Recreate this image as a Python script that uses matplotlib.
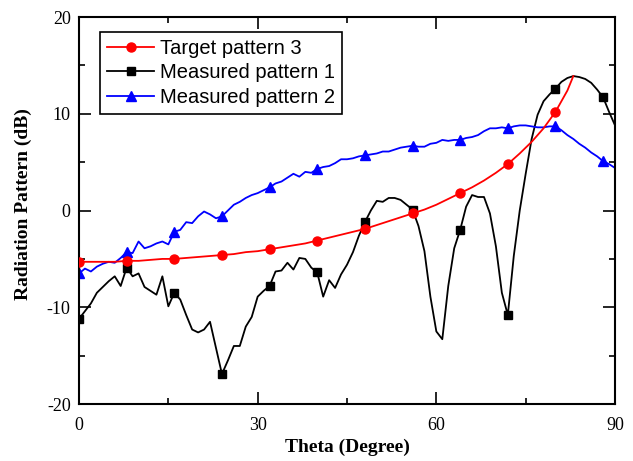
#!/usr/bin/env python3

import matplotlib
matplotlib.use('Agg')
import matplotlib.pyplot as plt
from matplotlib.ticker import MultipleLocator

# theta grid (degrees) for the measured curves
theta = list(range(0, 91))

measured_1 = [
    -11.2, -10.4, -9.6, -8.5, -7.9, -7.3, -6.8, -7.8, -5.9, -6.8,
    -6.5, -7.9, -8.3, -8.7, -6.8, -9.9, -8.5, -9.2, -10.8, -12.3,
    -12.6, -12.3, -11.5, -14.2, -16.9, -15.5, -14.0, -14.0, -12.0, -11.0,
    -8.9, -8.3, -7.8, -6.3, -6.2, -5.4, -6.1, -4.9, -5.0, -5.9,
    -6.4, -8.9, -7.2, -8.0, -6.6, -5.6, -4.3, -2.6, -1.2, 0.0,
    1.0, 0.9, 1.3, 1.3, 1.1, 0.6, 0.1, -1.6, -4.2, -8.9,
    -12.5, -13.3, -7.8, -3.9, -2.0, 0.4, 1.6, 1.4, 1.4, -0.3,
    -3.7, -8.5, -10.8, -4.7, 0.0, 3.8, 7.4, 9.9, 11.3, 12.0,
    12.6, 13.3, 13.7, 13.9, 13.8, 13.6, 13.2, 12.5, 11.7, 10.2,
    8.8,
]

measured_2 = [
    -6.5, -6.0, -6.3, -5.8, -5.5, -5.3, -5.4, -4.9, -4.3, -4.4,
    -3.2, -3.9, -3.7, -3.4, -3.2, -3.5, -2.2, -2.0, -1.2, -1.3,
    -0.6, -0.1, -0.4, -0.8, -0.6, 0.0, 0.6, 0.9, 1.3, 1.6,
    1.8, 2.1, 2.4, 2.8, 3.0, 3.4, 3.8, 3.5, 4.0, 3.9,
    4.3, 4.5, 4.6, 4.9, 5.3, 5.3, 5.4, 5.6, 5.7, 5.8,
    5.9, 6.1, 6.1, 6.3, 6.5, 6.6, 6.7, 6.6, 6.6, 6.9,
    7.0, 7.3, 7.2, 7.3, 7.3, 7.5, 7.6, 7.8, 8.2, 8.5,
    8.5, 8.6, 8.5, 8.7, 8.8, 8.8, 8.7, 8.6, 8.6, 8.7,
    8.7, 8.3, 7.8, 7.4, 6.9, 6.5, 6.0, 5.6, 5.1, 4.8,
    4.4,
]

# target curve is smooth, read every 2 degrees
target_theta = [0, 2, 4, 6, 8, 10, 12, 14, 16, 18, 20, 22, 24, 26, 28, 30,
                32, 34, 36, 38, 40, 42, 44, 46, 48, 50, 52, 54, 56, 58, 60,
                62, 64, 66, 68, 70, 72, 74, 76, 78, 80, 82, 83]
target_3 = [-5.3, -5.3, -5.3, -5.3, -5.2, -5.2, -5.1, -5.0, -5.0, -4.9, -4.8,
            -4.7, -4.6, -4.5, -4.3, -4.2, -4.0, -3.8, -3.6, -3.4, -3.1, -2.8,
            -2.5, -2.2, -1.9, -1.5, -1.1, -0.7, -0.3, 0.1, 0.6, 1.2, 1.8,
            2.4, 3.1, 3.9, 4.8, 5.9, 7.1, 8.5, 10.2, 12.4, 13.9]

marker_step = 8

##################################################################

plt.rcParams['font.family'] = ['Liberation Serif', 'DejaVu Serif']
plt.rcParams['axes.unicode_minus'] = False

fig = plt.figure(figsize=(6.33, 4.61), dpi=100)
ax = fig.add_axes([0.1248, 0.1236, 0.8468, 0.8394])

red_marks = [i for i, t in enumerate(target_theta) if t % marker_step == 0]
mark_idx = [i for i, t in enumerate(theta) if t % marker_step == 0]

ax.plot(target_theta, target_3, color='#ff0000', lw=1.3, marker='o', ms=6.5,
        markevery=red_marks, label='Target pattern 3', zorder=3)
ax.plot(theta, measured_1, color='black', lw=1.3, marker='s', ms=5.5,
        markevery=mark_idx, label='Measured pattern 1', zorder=2)
ax.plot(theta, measured_2, color='#0000ff', lw=1.3, marker='^', ms=7.5,
        markevery=mark_idx, label='Measured pattern 2', zorder=2)

ax.set_xlim(0, 90)
ax.set_ylim(-20, 20)
ax.xaxis.set_major_locator(MultipleLocator(30))
ax.xaxis.set_minor_locator(MultipleLocator(15))
ax.yaxis.set_major_locator(MultipleLocator(10))
ax.yaxis.set_minor_locator(MultipleLocator(5))
ax.tick_params(which='both', direction='in', top=True, right=True,
               labelsize=13, width=1.2)
ax.tick_params(which='major', length=8.5)
ax.tick_params(axis='x', which='major', pad=9)
ax.tick_params(axis='y', which='major', pad=6)
ax.tick_params(which='minor', length=4.5)
for s in ax.spines.values():
    s.set_linewidth(1.5)

ax.set_xlabel('Theta (Degree)', fontsize=14, fontweight='bold', labelpad=4)
ax.set_ylabel('Radiation Pattern (dB)', fontsize=14, fontweight='bold')
ax.yaxis.set_label_coords(-0.088, 0.518)

leg = ax.legend(loc='upper left', bbox_to_anchor=(0.039, 0.962),
                prop={'family': 'Liberation Sans', 'size': 14.5},
                fancybox=False, framealpha=1, edgecolor='black',
                borderpad=0.35, labelspacing=0.28, handlelength=2.35,
                handletextpad=0.3, borderaxespad=0)
leg.get_frame().set_linewidth(1.2)

fig.savefig('out.png', dpi=100)
